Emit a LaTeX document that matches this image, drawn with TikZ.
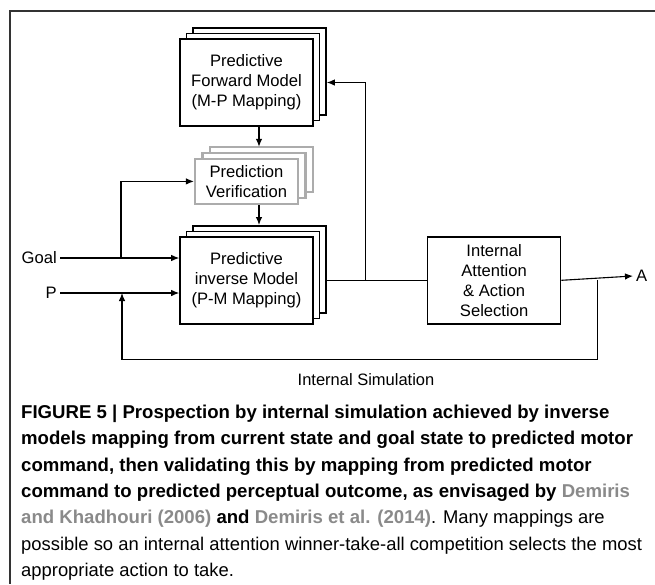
\documentclass[tikz,border=0pt]{standalone}
\usepackage{fontspec}
\setmainfont{Liberation Sans}
\usepackage{xcolor}
\usepackage{tikz}
\usetikzlibrary{arrows.meta,positioning,shadows}

\definecolor{citegray}{HTML}{8A8A8A}
\newcommand{\capbold}{\fontsize{18.6}{26.3}\selectfont\bfseries}
\newcommand{\capplain}{\fontsize{18.4}{26.3}\selectfont\mdseries}

\begin{document}
\begin{tikzpicture}[
    x=1pt,y=1pt,
    node distance=31pt and 113pt,
    box/.style={draw,fill=white,line width=1.6pt,align=center,inner sep=0pt,
                font=\fontsize{16.6}{20}\selectfont,
                minimum width=133pt,minimum height=87pt},
    stack/.style={box,
                  copy shadow={shadow xshift=13pt,shadow yshift=11pt,draw=black},
                  copy shadow={shadow xshift=6.5pt,shadow yshift=5.5pt,draw=black}},
    grey/.style={box,draw=gray!65,line width=2.2pt,
                 minimum width=103pt,minimum height=45pt,
                 copy shadow={shadow xshift=15pt,shadow yshift=12pt,draw=gray!65},
                 copy shadow={shadow xshift=7.5pt,shadow yshift=6pt,draw=gray!65}},
    lbl/.style={font=\fontsize{16.6}{20}\selectfont,inner sep=3pt},
    arr/.style={-{Latex[length=8pt,width=6.5pt]},line width=1.1pt},
    wire/.style={line width=1.1pt}
  ]
  \useasboundingbox (0,0) rectangle (655,-584);
  \draw[line width=1.2pt,black!80] (655,-11) -- (10,-11) -- (10,-584);

  \node[stack] at (246.5,-82.5) (fwd) {Predictive\\Forward Model\\(M-P Mapping)};
  \node[grey,below=of fwd] (ver) {Prediction\\Verification};
  \node[stack,below=of ver] (inv) {Predictive\\inverse Model\\(P-M Mapping)};
  \node[box,right=of inv] (sel) {Internal\\Attention\\\& Action\\Selection};

  \node[lbl,anchor=east] at (60,-258) (goal) {Goal};
  \node[lbl,anchor=east] at (60,-293) (p) {P};
  \node[lbl,anchor=west] at (633,-276) (a) {A};
  \node[font=\fontsize{16.5}{20}\selectfont] at (366,-380) (sim) {Internal Simulation};

  \coordinate (gsplit) at ([xshift=61pt]goal.east);
  \coordinate (pin) at ([xshift=62pt]p.east);
  \coordinate (up) at ([xshift=52pt]inv.east);
  \coordinate (fb) at ([xshift=36pt]sel.east);

  \draw[arr] ([xshift=12.5pt]fwd.south) -- ([xshift=12.5pt,yshift=11pt]ver.north);
  \draw[arr] ([xshift=12.5pt]ver.south) -- ([xshift=12.5pt,yshift=11pt]inv.north);
  \draw[arr] (goal.east) -- (goal.east -| inv.west);
  \draw[arr] (p.east) -- (p.east -| inv.west);
  \draw[arr] (gsplit) |- (ver.west);
  \draw[wire] ([xshift=13pt]inv.east) -- (sel.west);
  \draw[arr] (up) |- ([xshift=13pt]fwd.east);
  \draw[arr] (sel.east) -- (a.west);
  \draw[arr] (fb) -- ++(0,-79) -| (pin);

  \node[anchor=north west,align=left,inner sep=0pt,
        font=\capbold] at (21,-405) (cap)
    {FIGURE 5 | Prospection by internal simulation achieved by inverse\\
     models mapping from current state and goal state to predicted motor\\
     command, then validating this by mapping from predicted motor\\
     command to predicted perceptual outcome, as envisaged by \textcolor{citegray}{Demiris}\\
     \textcolor{citegray}{and Khadhouri (2006)} and \textcolor{citegray}{Demiris et al. (2014)}{\capplain. Many mappings are}\\
     \capplain possible so an internal attention winner-take-all competition selects the most\\
     \capplain appropriate action to take.};
\end{tikzpicture}
\end{document}
